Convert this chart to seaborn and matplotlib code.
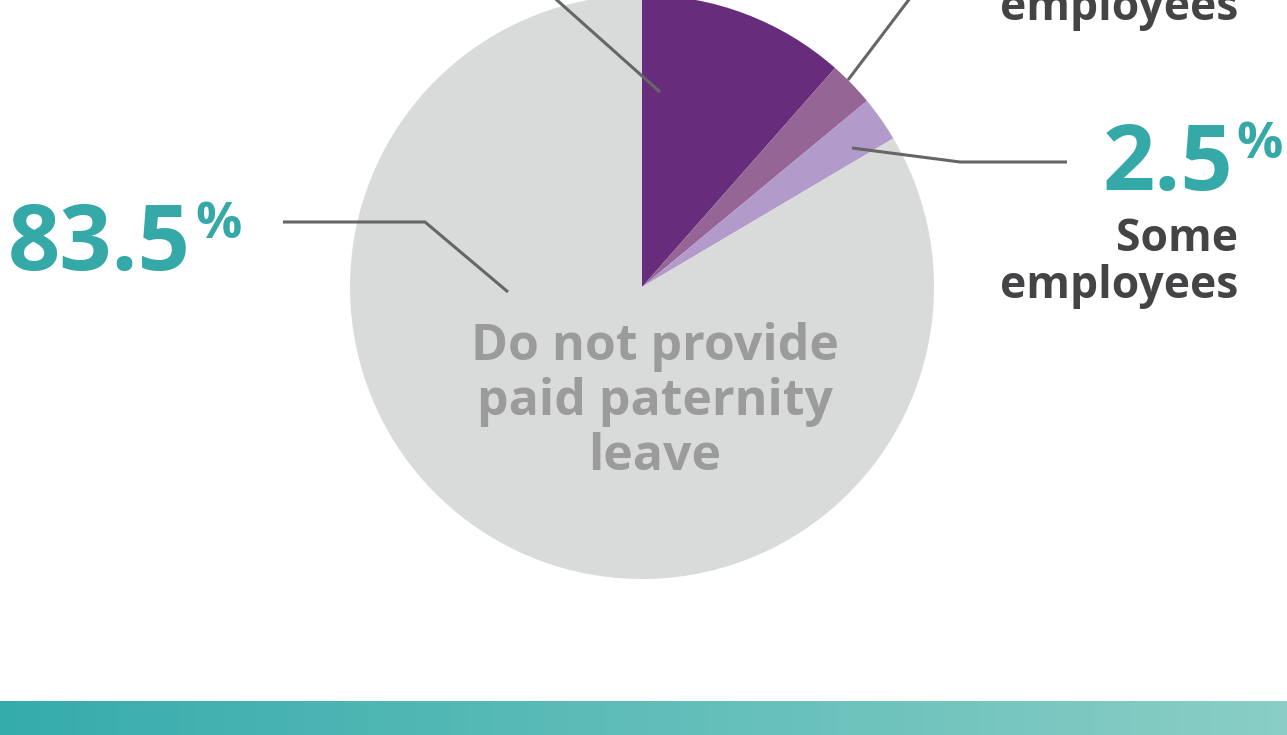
import numpy as np
import matplotlib.pyplot as plt
import matplotlib.colors as mcolors
import seaborn as sns

# share of employers providing paid paternity leave
categories = ["All employees", "Most employees", "Some employees", "Do not provide paid paternity leave"]
shares = [11.5, 2.5, 2.5, 83.5]
slice_colors = ["#682c7c", "#956596", "#b29acb", "#d9dada"]

W, H = 1287, 735
TEAL = "#35a8a8"
DARK = "#444447"
LINE = "#666666"


def Y(p):
    # pixel row (from top) -> data y (from bottom)
    return H - p


sns.set_theme(style="white")
plt.rcParams["font.family"] = ["Open Sans", "DejaVu Sans"]

fig = plt.figure(figsize=(W / 100, H / 100), dpi=100)
ax = fig.add_axes([0, 0, 1, 1])

ax.pie(shares, colors=slice_colors, startangle=90, counterclock=False,
       center=(642, Y(287)), radius=292, frame=True,
       wedgeprops=dict(linewidth=0))
ax.set_xlim(0, W)
ax.set_ylim(0, H)
ax.set_aspect("equal")
ax.axis("off")

# leader lines
leaders = [
    [(660, 92), (540, -15)],
    [(848, 80), (920, -15)],
    [(852, 148), (960, 162), (1067, 162)],
    [(508, 292), (425, 222), (283, 222)],
]
for pts in leaders:
    xs = [p[0] for p in pts]
    ys = [Y(p[1]) for p in pts]
    ax.plot(xs, ys, color=LINE, lw=2.2, solid_capstyle="butt", clip_on=False)

# big percentage labels
ax.text(8, Y(270), f"{shares[3]:.1f}", color=TEAL, fontsize=66, fontweight="bold",
        ha="left", va="baseline")
ax.text(195, Y(238), "%", color=TEAL, fontsize=37, fontweight="bold",
        ha="left", va="baseline")
ax.text(1103, Y(190), f"{shares[2]:.1f}", color=TEAL, fontsize=66, fontweight="bold",
        ha="left", va="baseline")
ax.text(1236, Y(158), "%", color=TEAL, fontsize=37, fontweight="bold",
        ha="left", va="baseline")

ax.text(1238, Y(251), "Some", color=DARK, fontsize=32, fontweight="bold",
        ha="right", va="baseline")
ax.text(1238, Y(298), "employees", color=DARK, fontsize=32, fontweight="bold",
        ha="right", va="baseline")
ax.text(1238, Y(20), "employees", color=DARK, fontsize=32, fontweight="bold",
        ha="right", va="baseline")

ax.text(655, Y(402), "Do not provide\npaid paternity\nleave", color="#9b9b9b",
        fontsize=36, fontweight="bold", ha="center", va="center", linespacing=1.12)

# gradient band along the bottom
grad = np.linspace(0, 1, 256).reshape(1, -1)
cmap = mcolors.LinearSegmentedColormap.from_list("band", ["#35acac", "#8acec5"])
ax.imshow(grad, cmap=cmap, aspect="auto", extent=(0, W, 0, Y(701)), zorder=0)

fig.savefig("out.png", dpi=100)
